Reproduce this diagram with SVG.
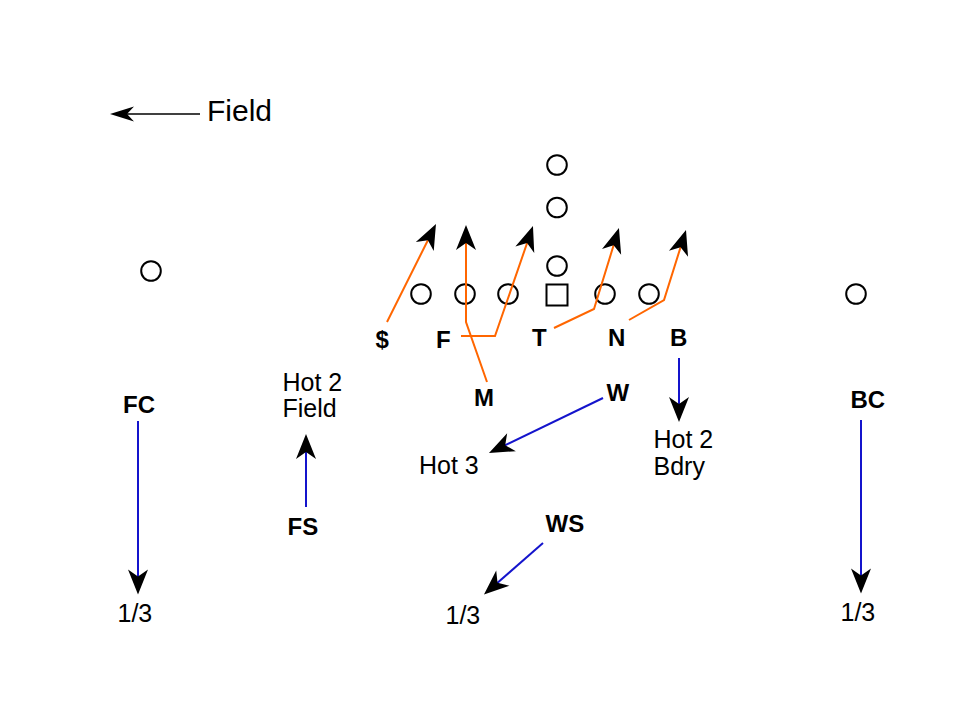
<svg xmlns="http://www.w3.org/2000/svg" width="960" height="720" viewBox="0 0 960 720">
<style>
  .pl { fill: none; stroke: #000; stroke-width: 2; }
  .lbl { font-family: "Liberation Sans", Arial, sans-serif; font-size: 24px; font-weight: bold; fill: #000; }
  .txt { font-family: "Liberation Sans", Arial, sans-serif; font-size: 25px; fill: #000; }
  .route { fill: none; stroke: #FF6600; stroke-width: 2; marker-end: url(#ah); }
  .drop { fill: none; stroke: #1414CC; stroke-width: 2; marker-end: url(#ah); }
</style>
<defs>
  <marker id="ah" markerUnits="userSpaceOnUse" orient="auto" refX="0" refY="0" markerWidth="40" markerHeight="40" overflow="visible">
    <path d="M10,0 L-15,-10 L-8,0 L-15,10 Z" fill="#000"/>
  </marker>
  <marker id="ahs" markerUnits="userSpaceOnUse" orient="auto" refX="0" refY="0" markerWidth="40" markerHeight="40" overflow="visible">
    <path d="M10,0 L-14,-7.5 L-7,0 L-14,7.5 Z" fill="#000"/>
  </marker>
</defs>
<rect width="960" height="720" fill="#fff"/>

<g id="field-indicator">
  <line x1="200" y1="114" x2="120" y2="114" stroke="#000" stroke-width="1.5" marker-end="url(#ahs)"/>
  <text class="txt" x="207" y="121" style="font-size:30px">Field</text>
</g>

<g id="offense">
  <circle class="pl" cx="151" cy="271" r="9.8"/>
  <circle class="pl" cx="856" cy="294" r="9.8"/>
  <circle class="pl" cx="557" cy="165" r="9.8"/>
  <circle class="pl" cx="557" cy="207.5" r="9.8"/>
  <circle class="pl" cx="557" cy="266" r="9.8"/>
  <circle class="pl" cx="421" cy="294" r="9.8"/>
  <circle class="pl" cx="465" cy="294" r="9.8"/>
  <circle class="pl" cx="508" cy="294" r="9.8"/>
  <rect class="pl" x="546.5" y="284.5" width="21" height="21"/>
  <circle class="pl" cx="605" cy="294" r="9.8"/>
  <circle class="pl" cx="649" cy="294" r="9.8"/>
</g>

<g id="connectors">
  <polyline class="route" points="387,322 431.5,233"/>
  <polyline class="route" points="461,336 495,336 529.7,235.5"/>
  <polyline class="route" points="487,382 466,322 466,235"/>
  <polyline class="route" points="554,328 594,309 616,237.5"/>
  <polyline class="route" points="629,320 664,300 683,239.5"/>
  <line class="drop" x1="603" y1="398" x2="498" y2="448.7"/>
  <line class="drop" x1="543" y1="543" x2="491.5" y2="588"/>
  <line class="drop" x1="138" y1="421" x2="138" y2="584.5"/>
  <line class="drop" x1="861" y1="420" x2="861" y2="583.5"/>
  <line class="drop" x1="306" y1="507" x2="306" y2="444"/>
  <line class="drop" x1="679" y1="358" x2="679" y2="412"/>
</g>

<g id="dollar"><text class="lbl" x="375.5" y="348">$</text></g>
<g id="F"><text class="lbl" x="436" y="348">F</text></g>
<g id="T"><text class="lbl" x="532" y="346">T</text></g>
<g id="N"><text class="lbl" x="608" y="346">N</text></g>
<g id="B"><text class="lbl" x="670" y="346">B</text></g>
<g id="M"><text class="lbl" x="474" y="406">M</text></g>
<g id="W"><text class="lbl" x="606.5" y="401">W</text></g>
<g id="FC"><text class="lbl" x="123" y="413">FC</text></g>
<g id="BC"><text class="lbl" x="850.5" y="408">BC</text></g>
<g id="FS"><text class="lbl" x="287.5" y="535">FS</text></g>
<g id="WS"><text class="lbl" x="545.5" y="532">WS</text></g>

<g id="hot2-field"><text class="txt" x="282.5" y="391">Hot 2</text><text class="txt" x="282.5" y="417">Field</text></g>
<g id="hot3"><text class="txt" x="419" y="474">Hot 3</text></g>
<g id="hot2-bdry"><text class="txt" x="653.5" y="448">Hot 2</text><text class="txt" x="653.5" y="475">Bdry</text></g>
<g id="zone-fc"><text class="txt" x="117.5" y="621.5">1/3</text></g>
<g id="zone-ws"><text class="txt" x="445.5" y="623.5">1/3</text></g>
<g id="zone-bc"><text class="txt" x="840.5" y="620.5">1/3</text></g>
</svg>
